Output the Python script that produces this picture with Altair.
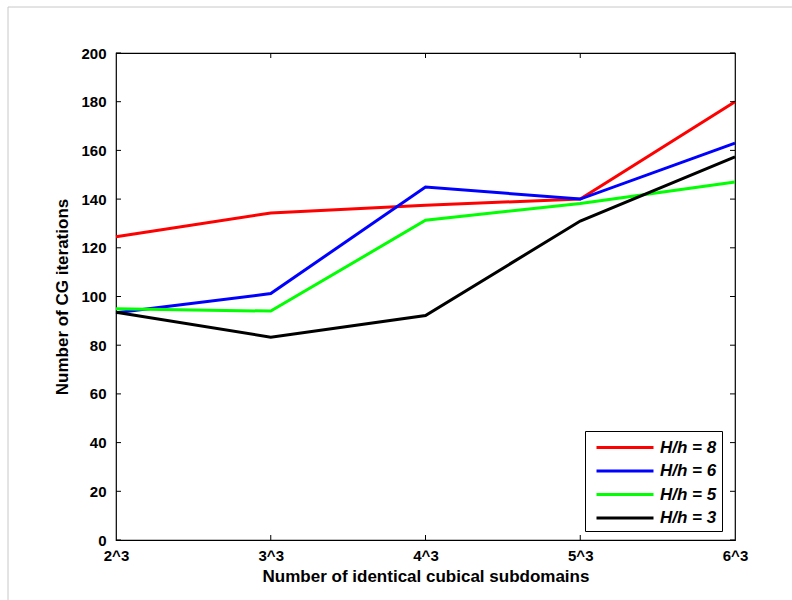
import altair as alt
import pandas as pd

categories = ["2^3", "3^3", "4^3", "5^3", "6^3"]
series_names = ["H/h = 8", "H/h = 6", "H/h = 5", "H/h = 3"]
series_colors = ["#ff0000", "#0000ff", "#00ff00", "#000000"]
h8 = [124.5, 134.3, 137.5, 140, 180]
h6 = [93.3, 101.2, 145, 140, 163]
h5 = [95, 94, 131.3, 138.2, 147]
h3 = [93.5, 83.3, 92.2, 131, 157.3]
y_ticks = [0, 20, 40, 60, 80, 100, 120, 140, 160, 180, 200]
x_inner_ticks = ["3^3", "4^3", "5^3"]

rows = []
for name, vals in zip(series_names, [h8, h6, h5, h3]):
    for i, (c, v) in enumerate(zip(categories, vals)):
        rows.append({"cat": c, "idx": i, "val": v, "series": name})
df = pd.DataFrame(rows)

W, H = 619, 487
FONT = "Liberation Sans"

xscale = alt.Scale(domain=categories, type="point", padding=0)
yscale = alt.Scale(domain=[0, 200], nice=False)

lines = alt.Chart(df).mark_line(strokeWidth=3).encode(
    x=alt.X("cat:O", scale=xscale, sort=categories,
            axis=alt.Axis(title="Number of identical cubical subdomains", labelAngle=0,
                          ticks=False, tickSize=0, labelPadding=8, titlePadding=5,
                          domain=False, grid=False)),
    y=alt.Y("val:Q", scale=yscale,
            axis=alt.Axis(title="Number of CG iterations", values=y_ticks,
                          ticks=False, tickSize=0, labelPadding=10, titlePadding=9,
                          domain=False, grid=False)),
    color=alt.Color("series:N",
                    scale=alt.Scale(domain=series_names, range=series_colors),
                    legend=alt.Legend(title=None, orient="none", legendX=469, legendY=378,
                                      strokeColor="black", fillColor="white", padding=5,
                                      symbolType="M-0.5,0H5.2", symbolSize=400,
                                      symbolStrokeWidth=3, labelOffset=47,
                                      rowPadding=3.5, labelFont=FONT, labelFontSize=17,
                                      labelFontStyle="italic", labelFontWeight="bold",
                                      labelColor="black")),
    order=alt.Order("idx:Q"),
)

ytick_df = pd.DataFrame({"v": y_ticks})
left_ticks = alt.Chart(ytick_df).mark_rule(color="black", strokeWidth=1).encode(
    y=alt.Y("v:Q", scale=yscale), x=alt.value(0), x2=alt.value(5))
right_ticks = alt.Chart(ytick_df).mark_rule(color="black", strokeWidth=1).encode(
    y=alt.Y("v:Q", scale=yscale), x=alt.value(W - 5), x2=alt.value(W))

xtick_df = pd.DataFrame({"c": x_inner_ticks})
bottom_ticks = alt.Chart(xtick_df).mark_rule(color="black", strokeWidth=1).encode(
    x=alt.X("c:O", scale=xscale, sort=categories), y=alt.value(H), y2=alt.value(H - 5))
top_ticks = alt.Chart(xtick_df).mark_rule(color="black", strokeWidth=1).encode(
    x=alt.X("c:O", scale=xscale, sort=categories), y=alt.value(0), y2=alt.value(5))

border_df = pd.DataFrame({"k": [0]})
border_top = alt.Chart(border_df).mark_rule(color="#c8c8c8", strokeWidth=1).encode(
    x=alt.value(-108), x2=alt.value(792 - 116), y=alt.value(-46))
border_left = alt.Chart(border_df).mark_rule(color="#c8c8c8", strokeWidth=1).encode(
    x=alt.value(-108), y=alt.value(-46), y2=alt.value(600 - 53))

chart = alt.layer(
    border_top, border_left, lines, left_ticks, right_ticks, bottom_ticks, top_ticks
).properties(
    width=W, height=H,
    autosize=alt.AutoSizeParams(type="none"),
    padding={"left": 116, "top": 53, "right": 57, "bottom": 60},
    background="white",
).configure_view(
    stroke="black", strokeWidth=1.2
).configure_axis(
    labelFont=FONT, labelFontSize=15, labelFontWeight="bold", labelColor="black",
    titleFont=FONT, titleFontSize=17, titleFontWeight="bold", titleColor="black",
)

chart.save("out.html", embed_options={"renderer": "svg", "actions": False})
